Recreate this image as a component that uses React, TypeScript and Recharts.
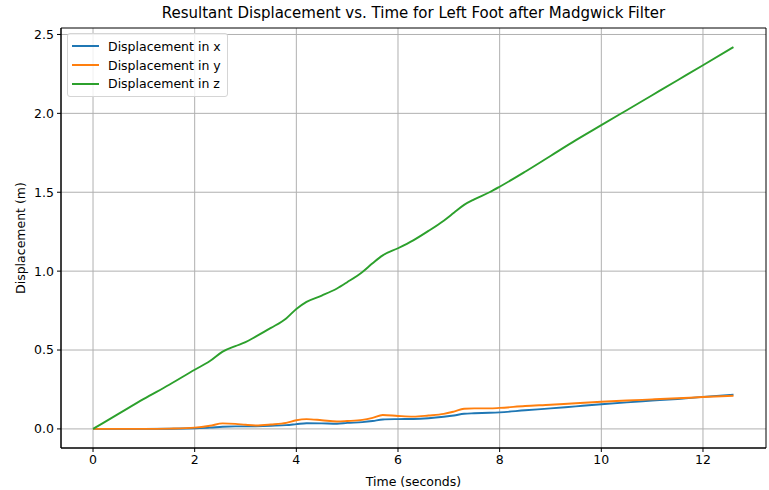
import React from "react";
import {
  LineChart,
  Line,
  XAxis,
  YAxis,
  CartesianGrid,
  ReferenceArea,
} from "recharts";

// time samples (seconds)
const times = [
  0, 0.5, 1, 1.5, 2, 2.3, 2.55, 2.8, 3.0, 3.2, 3.5, 3.8, 4.0, 4.2, 4.5, 4.8,
  5.0, 5.3, 5.5, 5.7, 6.0, 6.3, 6.6, 6.9, 7.1, 7.3, 7.5, 7.8, 8.0, 8.5, 9,
  9.5, 10, 10.5, 11, 11.5, 12, 12.6,
];

const dispX = [
  0, 0, 0, 0.001, 0.004, 0.008, 0.014, 0.016, 0.016, 0.017, 0.02, 0.024, 0.03,
  0.036, 0.035, 0.033, 0.038, 0.043, 0.05, 0.06, 0.062, 0.063, 0.068, 0.077,
  0.085, 0.096, 0.099, 0.102, 0.105, 0.118, 0.13, 0.143, 0.156, 0.168, 0.179,
  0.19, 0.203, 0.217,
];

const dispY = [
  0, 0, 0, 0.002, 0.008, 0.02, 0.035, 0.032, 0.026, 0.022, 0.028, 0.038, 0.055,
  0.062, 0.055, 0.047, 0.05, 0.057, 0.07, 0.088, 0.082, 0.078, 0.085, 0.095,
  0.11, 0.128, 0.13, 0.13, 0.133, 0.145, 0.153, 0.163, 0.172, 0.18, 0.187,
  0.194, 0.202, 0.21,
];

const dispZ = [
  0, 0.095, 0.19, 0.28, 0.375, 0.43, 0.49, 0.525, 0.55, 0.585, 0.64, 0.7, 0.76,
  0.805, 0.845, 0.89, 0.93, 0.995, 1.05, 1.1, 1.145, 1.195, 1.255, 1.32, 1.37,
  1.42, 1.455, 1.5, 1.535, 1.63, 1.73, 1.83, 1.925, 2.02, 2.115, 2.21, 2.305,
  2.42,
];

const xTicks = [0, 2, 4, 6, 8, 10, 12];
const yTicks = [0, 0.5, 1.0, 1.5, 2.0, 2.5];
const xDomain = [-0.63, 13.24];
const yDomain = [-0.121, 2.541];

const series = [
  { key: "x", name: "Displacement in x", color: "#1f77b4" },
  { key: "y", name: "Displacement in y", color: "#ff7f0e" },
  { key: "z", name: "Displacement in z", color: "#2ca02c" },
];

const data = times.map((t, i) => ({
  t,
  x: dispX[i],
  y: dispY[i],
  z: dispZ[i],
}));

const FONT = "'DejaVu Sans', sans-serif";
const tickStyle = { fontSize: 12.5, fill: "#000", fontFamily: FONT };

function LegendBox() {
  return (
    <div
      style={{
        position: "absolute",
        left: 67,
        top: 33,
        background: "rgba(255,255,255,0.8)",
        border: "1px solid #d5d5d5",
        borderRadius: 3,
        padding: "3px 6px 3px 4px",
        fontFamily: FONT,
        fontSize: 12.5,
        color: "#000",
      }}
    >
      {series.map((s) => (
        <div
          key={s.key}
          style={{ display: "flex", alignItems: "center", height: 18.7 }}
        >
          <div
            style={{
              width: 27,
              height: 2,
              background: s.color,
              marginRight: 9,
            }}
          />
          <span>{s.name}</span>
        </div>
      ))}
    </div>
  );
}

export default function App() {
  return (
    <div
      style={{
        position: "absolute",
        left: 0,
        top: 0,
        width: 769,
        height: 490,
        background: "#fff",
      }}
    >
      <div
        style={{
          position: "absolute",
          top: 4,
          left: 61,
          width: 705,
          textAlign: "center",
          fontFamily: FONT,
          fontSize: 15,
          color: "#000",
        }}
      >
        Resultant Displacement vs. Time for Left Foot after Madgwick Filter
      </div>
      <LineChart
        width={769}
        height={490}
        data={data}
        margin={{ top: 28, right: 3, bottom: 0, left: 0 }}
      >
        <CartesianGrid
          stroke="#b0b0b0"
          strokeWidth={1}
          horizontalValues={yTicks}
          verticalValues={xTicks}
        />
        <XAxis
          dataKey="t"
          type="number"
          domain={xDomain}
          ticks={xTicks}
          allowDataOverflow
          height={42}
          tick={tickStyle}
          tickSize={4}
          tickMargin={3}
          axisLine={{ stroke: "#000", strokeWidth: 1 }}
          tickLine={{ stroke: "#000" }}
          label={{
            value: "Time (seconds)",
            position: "insideBottom",
            offset: 4,
            style: { fontSize: 12.5, fill: "#000", fontFamily: FONT },
          }}
        />
        <YAxis
          type="number"
          domain={yDomain}
          ticks={yTicks}
          allowDataOverflow
          width={61}
          tick={tickStyle}
          tickSize={4}
          tickMargin={3}
          tickFormatter={(v: number) => v.toFixed(1)}
          axisLine={{ stroke: "#000", strokeWidth: 1 }}
          tickLine={{ stroke: "#000" }}
          label={{
            value: "Displacement (m)",
            position: "insideLeft",
            angle: -90,
            offset: 21,
            style: {
              fontSize: 12.5,
              fill: "#000",
              fontFamily: FONT,
              textAnchor: "middle",
            },
          }}
        />
        {series.map((s) => (
          <Line
            key={s.key}
            dataKey={s.key}
            name={s.name}
            type="monotone"
            stroke={s.color}
            strokeWidth={1.9}
            dot={false}
            isAnimationActive={false}
          />
        ))}
        <ReferenceArea
          x1={xDomain[0]}
          x2={xDomain[1]}
          y1={yDomain[0]}
          y2={yDomain[1]}
          fill="none"
          fillOpacity={0}
          stroke="#000"
          strokeWidth={1}
          ifOverflow="visible"
        />
      </LineChart>
      <LegendBox />
    </div>
  );
}
